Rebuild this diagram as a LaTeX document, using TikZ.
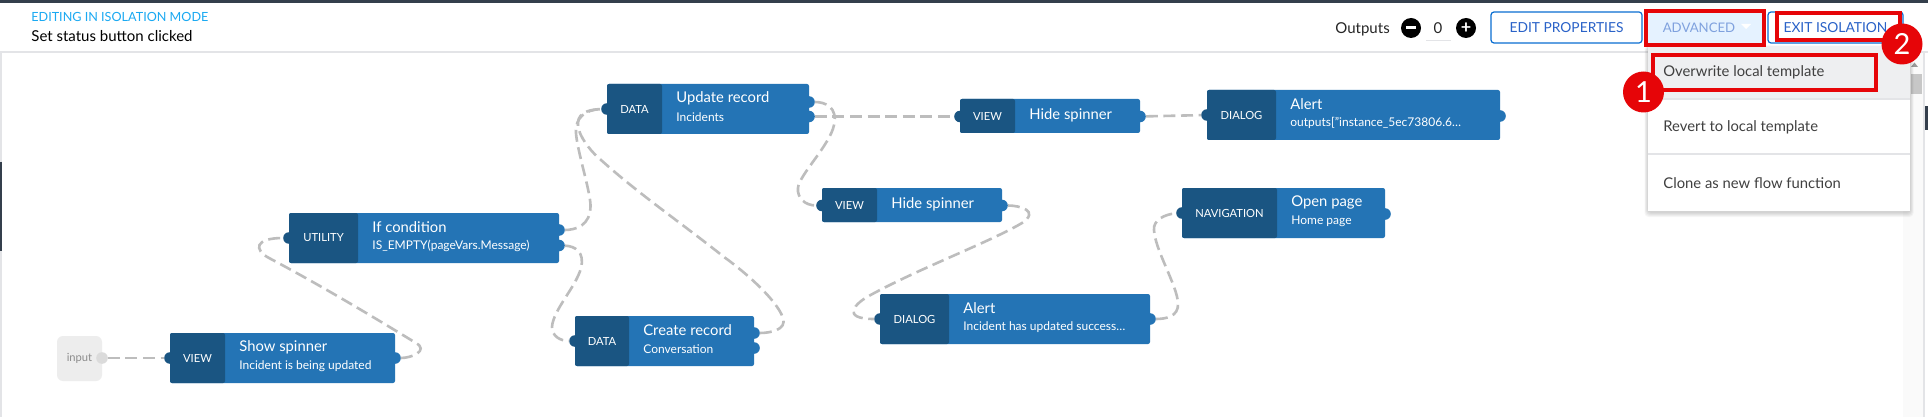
\documentclass[tikz,border=0pt]{standalone}
\usepackage{fontspec}
\setmainfont{Lato}
\definecolor{blockblue}{HTML}{2474B5}
\definecolor{tagblue}{HTML}{1A5582}
\definecolor{linkgray}{HTML}{BDBDBD}
\definecolor{edgegray}{HTML}{E3E4E7}
\definecolor{alarm}{HTML}{E60508}
\definecolor{btnblue}{HTML}{0A6ED1}
\definecolor{btntext}{HTML}{2A62C8}
\definecolor{hovergray}{HTML}{EEEFF1}
\definecolor{barslate}{HTML}{343F4C}
\definecolor{modecyan}{HTML}{1AA9F2}
\tikzset{
	bodybox/.style={fill=blockblue,rounded corners=1pt,inner sep=0,outer sep=0,anchor=north west,minimum height=#1},
	tagbox/.style={fill=tagblue,text=white,rounded corners=1pt,inner sep=0,outer sep=0,anchor=north west,minimum height=#1,font=\fontsize{5.6}{7}\selectfont},
	titletext/.style={text=white,inner sep=0,anchor=west,font=\fontsize{7.4}{9}\selectfont},
	subtext/.style={text=white,inner sep=0,anchor=west,font=\fontsize{6}{8}\selectfont},
	port/.style={circle,fill=#1,inner sep=0,outer sep=0,minimum size=5.8pt},
	link/.style={line width=1.3pt,linkgray,dash pattern=on 6pt off 2.8pt},
	btnbox/.style={draw=btnblue,line width=.6pt,rounded corners=1.5pt,inner sep=0,outer sep=0,anchor=north west,minimum height=15.5pt,text=btntext,font=\fontsize{6.9}{8}\selectfont},
	redbox/.style={draw=alarm,line width=2.2pt,inner sep=0,outer sep=0,anchor=north west},
	redball/.style={circle,fill=alarm,text=white,inner sep=0,minimum size=20.5pt,font=\fontsize{14.5}{16}\selectfont},
	menutext/.style={inner sep=0,anchor=west,text=black!75,font=\fontsize{7.4}{9}\selectfont},
	iconball/.style={circle,fill=black,text=white,inner sep=0,minimum size=10pt,font=\bfseries\fontsize{9}{9}\selectfont},
}
\begin{document}
\begin{tikzpicture}[x=.5pt,y=-.5pt]
\useasboundingbox (0,0) rectangle (1928,417);
\fill[white] (0,0) rectangle (1928,417);
\fill[barslate] (0,0) rectangle (1928,2.7);
\draw[edgegray,line width=.7pt] (0,52) -- (1928,52);
\draw[edgegray,line width=1pt] (1,52) -- (1,417);
\draw[barslate,line width=.8pt] (1,162) -- (1,251);
\fill[black!2] (1903,53) rectangle (1924,417);
\draw[edgegray,line width=.6pt] (1924,53) -- (1924,417);
\fill[barslate] (1925,106) rectangle (1928,130);
\fill[black!22] (1911,74) rectangle (1922,94);
\fill[black!40] (1911,67) -- (1914.5,62.5) -- (1918,67) -- cycle;

\node[inner sep=0,anchor=west,text=modecyan,font=\fontsize{6.3}{8}\selectfont] (modeline) at (31,17) {EDITING IN ISOLATION MODE};
\node[inner sep=0,anchor=west,font=\fontsize{7.5}{9}\selectfont] (flowname) at (31,36) {Set status button clicked};

\node[fill=black!7,rounded corners=3pt,inner sep=0,outer sep=0,minimum width=22.5pt,minimum height=22.5pt,anchor=north west,text=black!45] (input) at (57,336) {\fontsize{5.6}{7}\selectfont input};
\node[port=black!14] (input-out) at (102,358) {};

\foreach \nm/\xl/\yt/\blockw/\tagw/\tagtxt/\titletxt/\subtxt in {
	show/170/333/225/55/VIEW/Show spinner/Incident is being updated,
	util/289/213/270/69/UTILITY/If condition/IS\_EMPTY(pageVars.Message),
	update/607/84/202/55/DATA/Update record/Incidents,
	create/575/316/179/54/DATA/Create record/Conversation,
	alerttop/1207/90/293/69/DIALOG/Alert/outputs["instance\_5ec73806.6\ldots,
	alertlow/880/294/270/69/DIALOG/Alert/Incident has updated success\ldots,
	nav/1182/188/203/95/NAVIGATION/Open page/Home page}{
	\node[bodybox=25pt,minimum width=\blockw*.5pt] (\nm) at (\xl,\yt) {};
	\node[tagbox=25pt,minimum width=\tagw*.5pt] (\nm-tag) at (\xl,\yt) {\tagtxt};
	\node[titletext] (\nm-title) at (\xl+\tagw+14,\yt+14) {\titletxt};
	\node[subtext] (\nm-sub) at (\xl+\tagw+14,\yt+33) {\subtxt};
	\node[port=tagblue] (\nm-in) at (\xl,\yt+25) {};
	}
\foreach \nm/\xl/\yt in {hidetop/960/99,hidemid/822/188}{
	\node[bodybox=17pt,minimum width=90pt] (\nm) at (\xl,\yt) {};
	\node[tagbox=17pt,minimum width=27.5pt] (\nm-tag) at (\xl,\yt) {VIEW};
	\node[titletext] (\nm-title) at (\xl+69,\yt+16) {Hide spinner};
	\node[port=tagblue] (\nm-in) at (\xl,\yt+17.5) {};
	\node[port=blockblue] (\nm-out) at (\xl+180,\yt+17.5) {};
	}
\foreach \nm/\xp/\yp in {show-out/395/358,util-upper/559/230,util-lower/559/245.5,update-upper/809/102,update-lower/809/116.5,create-upper/754/333,create-lower/754/348,alerttop-out/1500/116,alertlow-out/1150/319,nav-out/1385/214}{
	\node[port=blockblue] (\nm) at (\xp,\yp) {};
	}

\draw[link] (input-out) -- (show-in);
\draw[link] (show-out) .. controls (412,358) and (429,350.5) .. (416,343) .. controls (370,315) and (320,285) .. (269,258) .. controls (254,250) and (254,238) .. (util-in);
\draw[link] (util-upper) .. controls (575,230) and (591,226) .. (590.5,205) .. controls (590,190) and (577,150) .. (576,133) .. controls (575,118) and (585,109.5) .. (update-in);
\draw[link] (util-lower) .. controls (575,246) and (585,252) .. (581,268) .. controls (576,287) and (553,310) .. (552,327) .. controls (552,336) and (560,341) .. (create-in);
\draw[link] (create-upper) .. controls (770,333) and (787,330) .. (783,318) .. controls (777,300) and (745,272) .. (724,257) .. controls (680,222) and (640,195) .. (601,160) .. controls (585,147) and (558,110) .. (update-in);
\draw[link] (update-upper) .. controls (825,102) and (838,107) .. (834,125) .. controls (830,145) and (799,175) .. (798,188) .. controls (797,198) and (805,205.5) .. (hidemid-in);
\draw[link] (update-lower) -- (hidetop-in);
\draw[link] (hidetop-out) -- (alerttop-in);
\draw[link] (hidemid-out) .. controls (1020,205.5) and (1040,211) .. (1022,223) .. controls (990,242) and (920,268) .. (870.6,295) .. controls (855,303) and (840,319) .. (alertlow-in);
\draw[link] (alertlow-out) .. controls (1165,319) and (1179,317) .. (1178,303) .. controls (1177,285) and (1155,250) .. (1154,230) .. controls (1153,220) and (1165,214) .. (nav-in);

\node[inner sep=0,anchor=west,text=black!85,font=\fontsize{7.5}{9}\selectfont] (outlabel) at (1335,29) {Outputs};
\node[iconball] (minus) at (1411,28) {\rule{5pt}{1.5pt}};
\node[inner sep=0,text=black!85,font=\fontsize{7.5}{9}\selectfont] (count) at (1438,28) {0};
\node[iconball] (plus) at (1466,28) {+};
\draw[edgegray,line width=.6pt] (1426,40.5) -- (1451,40.5);

\node[btnbox,minimum width=75.5pt] (editbtn) at (1491,12) {EDIT PROPERTIES};
\node[btnbox,minimum width=67.5pt] (exitbtn) at (1768,12) {EXIT ISOLATION};
\node[fill=blue!50!cyan!10,inner sep=0,outer sep=0,anchor=north west,minimum width=59pt,minimum height=17pt,text=btntext!60,font=\fontsize{6.6}{8}\selectfont] (advbtn) at (1646,11) {\hspace{-6pt}ADVANCED};
\fill[white] (1741,24) -- (1751,24) -- (1746,29) -- cycle;

\foreach \s in {1,2,3,4,5}{
	\fill[black,opacity=.035,rounded corners=2pt] (1648-.7*\s,46) rectangle (1910+.7*\s,212+\s);
	}
\node[fill=white,inner sep=0,outer sep=0,anchor=north west,minimum width=131pt,minimum height=82.5pt] (menu) at (1648,46) {};
\node[fill=hovergray,inner sep=0,outer sep=0,anchor=north west,minimum width=131pt,minimum height=26.5pt] (hover) at (1648,46) {};
\draw[edgegray,line width=.6pt] (1648,99) -- (1910,99);
\draw[edgegray,line width=.6pt] (1648,154) -- (1910,154);
\node[menutext] (overwrite) at (1663,72) {Overwrite local template};
\node[menutext] (revert) at (1663,127) {Revert to local template};
\node[menutext] (clone) at (1663,183) {Clone as new flow function};

\node[redbox,minimum width=59pt,minimum height=17pt] (advmark) at (1646,11) {};
\node[redbox,minimum width=61.5pt,minimum height=13.5pt] (exitmark) at (1777,13) {};
\node[redbox,minimum width=111.5pt,minimum height=17.5pt] (overmark) at (1653,55) {};
\node[redball] (markone) at (1643.5,92) {1};
\node[redball] (marktwo) at (1902,44) {2};
\end{tikzpicture}
\end{document}
